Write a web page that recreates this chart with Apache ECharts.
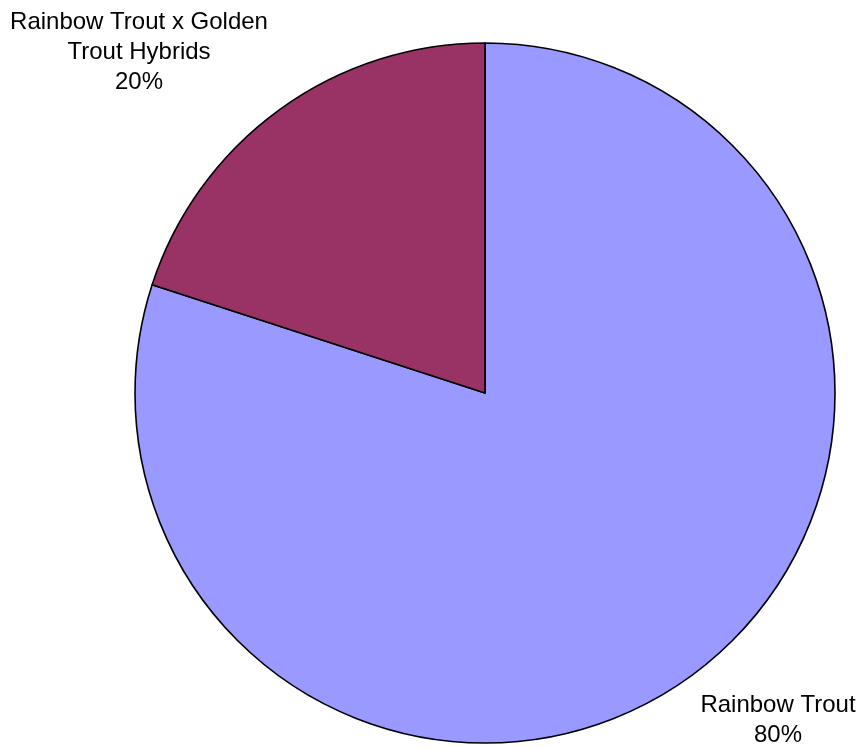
<!DOCTYPE html>
<html>
<head>
<meta charset="utf-8">
<script src="https://cdn.jsdelivr.net/npm/echarts@6/dist/echarts.min.js"></script>
<style>
html,body{margin:0;padding:0;background:#fff;}
#chart{width:863px;height:748px;}
</style>
</head>
<body>
<div id="chart"></div>
<script>
const categories = ["Rainbow Trout", "Rainbow Trout x Golden\nTrout Hybrids"];
const values = [80, 20];
const colors = ["#9999FF", "#993366"];
const labelCenters = [[778, 720], [139, 52]];

const chart = echarts.init(document.getElementById('chart'), null, {renderer: 'canvas'});
chart.setOption({
  animation: false,
  backgroundColor: '#ffffff',
  series: [{
    type: 'pie',
    center: [485, 393],
    radius: 350,
    startAngle: 90,
    clockwise: true,
    data: categories.map((c, i) => ({
      name: c,
      value: values[i],
      itemStyle: {color: colors[i]}
    })),
    itemStyle: {borderColor: '#000', borderWidth: 1.6},
    emphasis: {disabled: true},
    labelLine: {show: false},
    label: {
      show: true,
      position: 'outside',
      alignTo: 'none',
      overflow: 'none',
      bleedMargin: 0,
      formatter: p => p.name + '\n' + Math.round(p.percent) + '%',
      fontFamily: 'Liberation Sans, Arial, sans-serif',
      fontSize: 24,
      lineHeight: 30,
      color: '#000',
      align: 'center'
    },
    labelLayout: function (params) {
      const c = labelCenters[params.dataIndex];
      return {x: c[0], y: c[1], align: 'center', verticalAlign: 'middle', hideOverlap: false};
    }
  }]
});
</script>
</body>
</html>
